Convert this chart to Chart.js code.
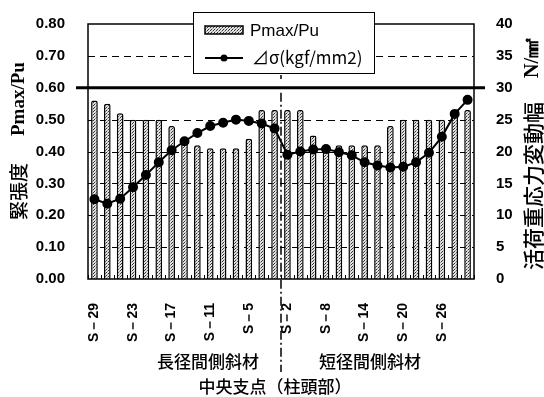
<!DOCTYPE html>
<html>
<head>
<meta charset="utf-8">
<script src="https://cdn.jsdelivr.net/npm/chart.js@4/dist/chart.umd.min.js"></script>
<style>
  html, body { margin: 0; padding: 0; background: #fff; }
</style>
</head>
<body>
<canvas id="chart" width="544" height="397"></canvas>
<script>
// members: long-span side (odd) then short-span side (even)
const members = [
    'S－29', 'S－27', 'S－25', 'S－23', 'S－21', 'S－19', 'S－17', 'S－15',
    'S－13', 'S－11', 'S－9', 'S－7', 'S－5', 'S－3', 'S－1',
    'S－2', 'S－4', 'S－6', 'S－8', 'S－10', 'S－12', 'S－14', 'S－16',
    'S－18', 'S－20', 'S－22', 'S－24', 'S－26', 'S－28', 'S－30'
];
const tensionRatio = [
    0.56, 0.55, 0.52, 0.50, 0.50, 0.50, 0.48, 0.44, 0.42, 0.41, 0.41, 0.41, 0.44, 0.53, 0.53,
    0.53, 0.53, 0.45, 0.42, 0.42, 0.42, 0.42, 0.42, 0.48, 0.50, 0.50, 0.50, 0.50, 0.52, 0.53
];
const stressRange = [
    12.5, 11.8, 12.6, 14.4, 16.3, 18.3, 20.2, 21.6, 22.9, 24.0, 24.5, 25.0, 24.8, 24.4, 23.6,
    19.5, 20.0, 20.3, 20.4, 19.9, 19.4, 18.3, 17.8, 17.5, 17.6, 18.3, 19.8, 22.3, 25.9, 28.1
];
const dashedLevels = [0.1, 0.2, 0.3, 0.4, 0.5, 0.7];
const limitLevel = 0.6;

const leftTitle = ['緊張度', 'Pmax/Pu'];
const rightTitle = ['活荷重応力変動幅', 'N/㎟'];
const longSideLabel = '長径間側斜材';
const shortSideLabel = '短径間側斜材';
const centerLabel = '中央支点（柱頭部）';

const CJK = '"Noto Sans CJK JP", sans-serif';
const LATIN = '"Liberation Sans", Arial, sans-serif';

const canvas = document.getElementById('chart');
const ctx = canvas.getContext('2d');

function stipple() {
    const c = document.createElement('canvas');
    c.width = 3;
    c.height = 3;
    const g = c.getContext('2d');
    g.fillStyle = '#e2e2e2';
    g.fillRect(0, 0, 3, 3);
    g.fillStyle = '#333';
    g.fillRect(0, 0, 1, 1);
    g.fillRect(1, 2, 1, 1);
    g.fillStyle = '#999';
    g.fillRect(2, 1, 1, 1);
    return ctx.createPattern(c, 'repeat');
}
const barFill = stipple();

function hline(c, x1, x2, y) {
    c.beginPath();
    c.moveTo(x1, y);
    c.lineTo(x2, y);
    c.stroke();
}

const decorPlugin = {
    id: 'decor',
    beforeDatasetsDraw(chart) {
        const { ctx: c, chartArea: a, scales: { y } } = chart;
        c.save();
        c.strokeStyle = '#000';
        c.lineWidth = 1;
        c.setLineDash([7, 5]);
        dashedLevels.forEach(v => {
            hline(c, a.left, a.right, Math.round(y.getPixelForValue(v)) + 0.5);
        });
        c.restore();
    },
    afterDraw(chart) {
        const { ctx: c, chartArea: a, scales: { x, y } } = chart;
        c.save();
        c.strokeStyle = '#000';

        // small ticks between bars on the bottom axis
        c.lineWidth = 1;
        for (let i = 0; i <= members.length; i++) {
            const px = Math.round((x.getPixelForValue(i - 0.5))) + 0.5;
            c.beginPath();
            c.moveTo(px, a.bottom);
            c.lineTo(px, a.bottom - 4);
            c.stroke();
        }

        // frame
        c.lineWidth = 1.5;
        c.strokeRect(a.left, a.top, a.right - a.left, a.bottom - a.top);

        // thick limit line
        c.lineWidth = 3;
        hline(c, a.left - 12, a.right + 11, y.getPixelForValue(limitLevel));

        // centre support line (dash-dot)
        const cx = x.getPixelForValue(14.5);
        c.lineWidth = 1.5;
        c.setLineDash([9, 3, 2, 3]);
        c.beginPath();
        c.moveTo(cx, y.getPixelForValue(limitLevel) + 5);
        c.lineTo(cx, 372);
        c.stroke();
        c.setLineDash([]);
        c.beginPath();
        c.moveTo(cx, 75);
        c.lineTo(cx, 79);
        c.stroke();

        // legend box
        const lx = 193, ly = 12, lw = 181, lh = 61;
        c.fillStyle = '#fff';
        c.fillRect(lx, ly, lw, lh);
        c.lineWidth = 1;
        c.strokeRect(lx + 0.5, ly + 0.5, lw, lh);
        c.fillStyle = barFill;
        c.fillRect(205, 26, 38, 8);
        c.lineWidth = 1.5;
        c.strokeRect(205, 26, 38, 8);
        c.lineWidth = 2;
        hline(c, 205, 243, 58);
        c.fillStyle = '#000';
        c.beginPath();
        c.arc(224, 58, 3.5, 0, Math.PI * 2);
        c.fill();
        c.textBaseline = 'middle';
        c.textAlign = 'left';
        c.font = '17px ' + LATIN;
        c.fillText(chart.data.datasets[0].label, 250, 31);
        c.font = '17px ' + CJK;
        c.fillText(chart.data.datasets[1].label, 252, 58);

        // left axis title, reads bottom to top
        c.save();
        c.translate(19, 220);
        c.rotate(-Math.PI / 2);
        c.textAlign = 'left';
        c.textBaseline = 'middle';
        c.font = '500 19px ' + CJK;
        c.fillText(leftTitle[0], 0, 0);
        c.font = 'bold 19px "Liberation Serif", serif';
        c.fillText(leftTitle[1], 84, 0);
        c.restore();

        // right axis title, reads bottom to top
        c.save();
        c.translate(533, 270);
        c.rotate(-Math.PI / 2);
        c.textAlign = 'left';
        c.textBaseline = 'middle';
        c.font = '500 21px ' + CJK;
        c.fillText(rightTitle[0], 0, 0);
        c.font = 'bold 20px "Liberation Serif", serif';
        c.fillText(rightTitle[1], 192, 0);
        c.restore();

        // bottom texts
        c.textAlign = 'center';
        c.textBaseline = 'middle';
        c.font = '500 17px ' + CJK;
        c.fillText(longSideLabel, 208, 362);
        c.fillText(shortSideLabel, 370, 362);
        c.fillText(centerLabel, 275, 387);
        c.restore();
    }
};

const tickFont = { family: LATIN, size: 15, weight: 'bold' };

new Chart(ctx, {
    type: 'bar',
    data: {
        labels: members,
        datasets: [
            {
                type: 'bar',
                label: 'Pmax/Pu',
                data: tensionRatio,
                yAxisID: 'y',
                backgroundColor: barFill,
                borderColor: '#000',
                borderWidth: 1.5,
                borderRadius: 2,
                borderSkipped: 'bottom',
                barPercentage: 0.52,
                categoryPercentage: 1,
                order: 2
            },
            {
                type: 'line',
                label: '⊿σ(kgf/mm2)',
                data: stressRange,
                yAxisID: 'y2',
                borderColor: '#000',
                borderWidth: 2,
                pointRadius: 4,
                pointBackgroundColor: '#000',
                pointBorderColor: '#000',
                tension: 0,
                order: 1
            }
        ]
    },
    options: {
        responsive: false,
        animation: false,
        layout: { padding: { top: 15, left: 0, right: 0, bottom: 0 } },
        plugins: {
            legend: { display: false },
            tooltip: { enabled: false }
        },
        scales: {
            x: {
                grid: { display: false },
                border: { display: false },
                ticks: {
                    autoSkip: false,
                    maxRotation: 90,
                    minRotation: 90,
                    padding: 16,
                    color: '#000',
                    font: { family: LATIN, size: 14, weight: 'bold' },
                    callback: (v, i) => (i % 3 === 0 ? members[i] : '')
                },
                afterFit(s) { s.height = 118; }
            },
            y: {
                position: 'left',
                min: 0,
                max: 0.8,
                grid: { display: false },
                border: { display: false },
                ticks: {
                    stepSize: 0.1,
                    padding: 15,
                    color: '#000',
                    font: tickFont,
                    callback: v => v.toFixed(2)
                },
                afterFit(s) { s.width = 88; }
            },
            y2: {
                position: 'right',
                min: 0,
                max: 40,
                grid: { display: false },
                border: { display: false },
                ticks: {
                    stepSize: 5,
                    padding: 14,
                    color: '#000',
                    font: tickFont
                },
                afterFit(s) { s.width = 70; }
            }
        }
    },
    plugins: [decorPlugin]
});
</script>
</body>
</html>
